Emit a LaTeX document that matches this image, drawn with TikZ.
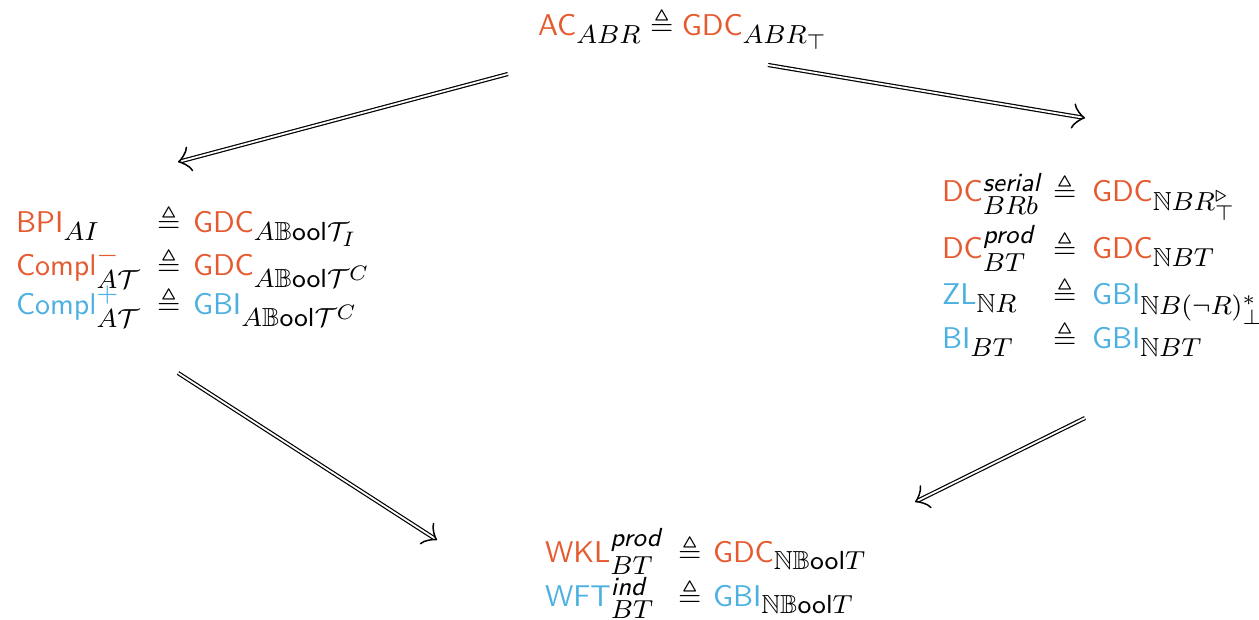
\RequirePackage{fix-cm}
\documentclass[tikz,border=0pt]{standalone}
\usepackage{amsmath,amssymb}
\DeclareMathSizes{10}{10}{8.7}{7}
\usetikzlibrary{arrows.meta,calc}
\definecolor{defc}{HTML}{E55A2E}
\definecolor{indc}{HTML}{4CB1E1}
\newcommand\oname[1]{\textcolor{defc}{\mathsf{#1}}}
\newcommand\bname[1]{\textcolor{indc}{\mathsf{#1}}}
\newcommand\sit[1]{\textsf{\textit{#1}}}
\newcommand\BoolT{\mathbb{B}\mathsf{ool}}
\begin{document}
\begin{tikzpicture}[x=0.3333pt,y=-0.3333pt,
  every node/.style={inner sep=0pt,outer sep=0pt,anchor=base west},
  impl/.style={double,line width=0.4pt,double distance=0.6pt,
    -{Classical TikZ Rightarrow[length=4.2pt,width=8.5pt,line width=0.5pt]}}]
\useasboundingbox (0,0) rectangle (1259,620);

% top principle
\node (top) at (538,36) {$\oname{AC}_{ABR} \triangleq \oname{GDC}_{ABR_\top}$};

% left block
\node (l1a) at (16,233) {$\oname{BPI}_{AI}$};
\node (l1e) at (157,233) {$\triangleq$};
\node (l1b) at (193,233) {$\oname{GDC}_{A\BoolT\mathcal{T}_I}$};
\node (l2a) at (16,276) {$\oname{Compl}^{\textcolor{defc}{-}}_{A\mathcal{T}}$};
\node (l2e) at (157,276) {$\triangleq$};
\node (l2b) at (193,276) {$\oname{GDC}_{A\BoolT\mathcal{T}^C}$};
\node (l3a) at (16,315) {$\bname{Compl}^{\textcolor{indc}{+}}_{A\mathcal{T}}$};
\node (l3e) at (157,315) {$\triangleq$};
\node (l3b) at (193,315) {$\bname{GBI}_{A\BoolT\mathcal{T}^C}$};

% right block
\node (r1a) at (942,202) {$\oname{DC}^{\sit{serial}}_{BRb}$};
\node (r1e) at (1053,202) {$\triangleq$};
\node (r1b) at (1092,202) {$\oname{GDC}_{\mathbb{N}BR^{\triangleright}_{\top}}$};
\node (r2a) at (942,259) {$\oname{DC}^{\sit{prod}}_{BT}$};
\node (r2e) at (1053,259) {$\triangleq$};
\node (r2b) at (1092,259) {$\oname{GDC}_{\mathbb{N}BT}$};
\node (r3a) at (942,305) {$\bname{ZL}_{\mathbb{N}R}$};
\node (r3e) at (1053,305) {$\triangleq$};
\node (r3b) at (1092,305) {$\bname{GBI}_{\mathbb{N}B(\neg R)^*_\bot}$};
\node (r4a) at (942,349) {$\bname{BI}_{BT}$};
\node (r4e) at (1053,349) {$\triangleq$};
\node (r4b) at (1092,349) {$\bname{GBI}_{\mathbb{N}BT}$};

% bottom block
\node (b1a) at (545,562) {$\oname{WKL}^{\sit{prod}}_{BT}$};
\node (b1e) at (678,562) {$\triangleq$};
\node (b1b) at (713,562) {$\oname{GDC}_{\mathbb{N}\BoolT T}$};
\node (b2a) at (545,606) {$\bname{WFT}^{\sit{ind}}_{BT}$};
\node (b2e) at (678,606) {$\triangleq$};
\node (b2b) at (713,606) {$\bname{GBI}_{\mathbb{N}\BoolT T}$};

% implications
\draw[impl] ($(top.base west)+(-30,38)$) -- ($(l1a.base west)+(162,-71)$);
\draw[impl] ($(top.base west)+(230,29)$) -- ($(r1a.base west)+(143,-84)$);
\draw[impl] ($(l3a.base west)+(162,58)$) -- ($(b1a.base west)+(-108,-22)$);
\draw[impl] ($(r4a.base west)+(143,69)$) -- ($(b1a.base west)+(370,-60)$);
\end{tikzpicture}
\end{document}
